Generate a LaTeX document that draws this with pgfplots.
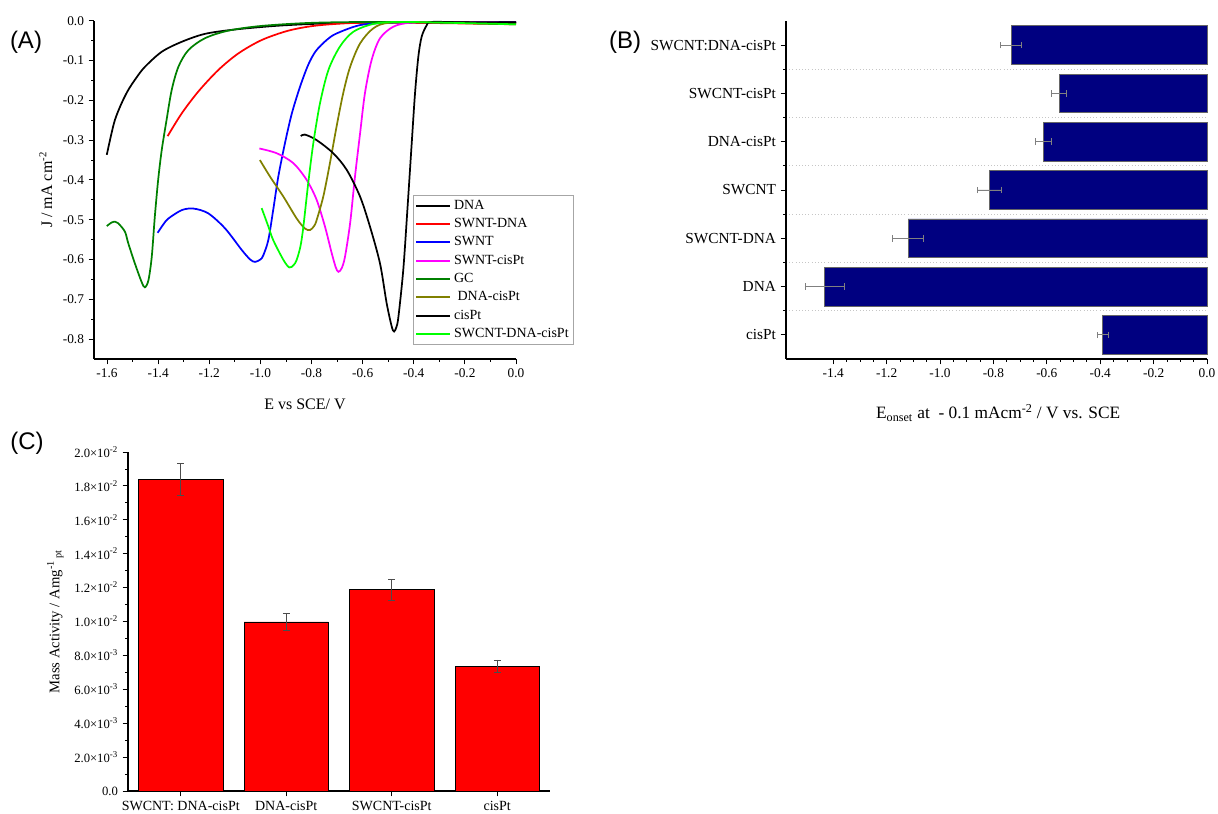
\documentclass[border=0pt]{standalone}
\usepackage{pgfplots}
\pgfplotsset{compat=1.18}
\usepackage{fontspec}
\setmainfont{Liberation Serif}
\newfontfamily\labfont{Liberation Sans}
\definecolor{olivec}{RGB}{128,128,0}
\definecolor{gcgreen}{RGB}{0,128,0}
\definecolor{navyc}{RGB}{0,0,128}
\definecolor{brgreen}{RGB}{0,255,0}
\definecolor{magc}{RGB}{255,0,255}
\definecolor{redc}{RGB}{255,0,0}
\definecolor{bluec}{RGB}{0,0,255}
\begin{document}
\begin{tikzpicture}
\useasboundingbox (0,0) rectangle (913.5pt,610.5pt);
\pgfplotsset{
  every axis/.append style={
    scale only axis, clip=false,
    axis lines=left, axis line style={-, line width=0.8pt},
    tick align=outside, major tick length=4pt, minor tick length=2.2pt,
    every tick/.style={black, line width=0.7pt},
    every minor tick/.style={black, line width=0.6pt},
    tick label style={font=\fontsize{10}{12}\selectfont},
  }
}
% ---------------- Panel A ----------------
\begin{axis}[
  at={(70.5pt,341.25pt)}, anchor=south west,
  width=316.5pt, height=253.7pt,
  xmin=-1.651, xmax=0, ymin=-0.85, ymax=0,
  xtick={-1.6,-1.4,-1.2,-1.0,-0.8,-0.6,-0.4,-0.2,0},
  xticklabels={-1.6,-1.4,-1.2,-1.0,-0.8,-0.6,-0.4,-0.2,0.0},
  ytick={-0.8,-0.7,-0.6,-0.5,-0.4,-0.3,-0.2,-0.1,0},
  yticklabels={-0.8,-0.7,-0.6,-0.5,-0.4,-0.3,-0.2,-0.1,0.0},
  minor x tick num=1, minor y tick num=1,
  xlabel={E vs SCE/ V},
  ylabel={J / mA cm\textsuperscript{-2}},
  label style={font=\fontsize{12}{14}\selectfont},
  xlabel style={at={(axis description cs:0.5,-0.133)}, anchor=center},
  ylabel style={at={(axis description cs:-0.114,0.5)}, anchor=center, rotate=0},
  legend style={at={(axis cs:-0.403,-0.438)}, anchor=north west, draw=gray!70,
    font=\fontsize{10.5}{12}\selectfont, inner sep=1.5pt, row sep=1.3pt,
    cells={anchor=west}},
  legend image code/.code={\draw[#1, line width=1.5pt] (0cm,0cm) -- (0.9cm,0cm);},
  every axis plot/.append style={line width=1.3pt, smooth, tension=0.5},
]
\addplot[black] coordinates {(-1.601,-0.337) (-1.585,-0.29) (-1.569,-0.249) (-1.545,-0.21) (-1.517,-0.174) (-1.485,-0.143) (-1.452,-0.116) (-1.386,-0.078) (-1.308,-0.053) (-1.217,-0.033) (-1.099,-0.022) (-0.931,-0.0125) (-0.75,-0.007) (-0.5,-0.004) (-0.25,-0.003) (0,-0.003)};
\addlegendentry{DNA}
\addplot[redc] coordinates {(-1.363,-0.290) (-1.308,-0.233) (-1.243,-0.178) (-1.165,-0.124) (-1.086,-0.082) (-0.995,-0.0485) (-0.891,-0.025) (-0.786,-0.0125) (-0.65,-0.006) (-0.5,-0.005) (-0.3,-0.006) (-0.1,-0.008) (0,-0.009)};
\addlegendentry{SWNT-DNA}
\addplot[bluec] coordinates {(-1.402,-0.533) (-1.380,-0.512) (-1.360,-0.497) (-1.308,-0.476) (-1.262,-0.472) (-1.204,-0.484) (-1.138,-0.522) (-1.073,-0.576) (-1.040,-0.600) (-1.021,-0.606) (-1.000,-0.600) (-0.989,-0.590) (-0.969,-0.551) (-0.950,-0.476) (-0.930,-0.392) (-0.904,-0.308) (-0.877,-0.233) (-0.845,-0.166) (-0.813,-0.111) (-0.783,-0.076) (-0.740,-0.048) (-0.702,-0.032) (-0.61,-0.011) (-0.493,-0.005) (-0.3,-0.004) (0,-0.005)};
\addlegendentry{SWNT}
\addplot[magc] coordinates {(-1.004,-0.321) (-0.936,-0.333) (-0.871,-0.358) (-0.819,-0.400) (-0.780,-0.450) (-0.747,-0.518) (-0.721,-0.584) (-0.705,-0.620) (-0.695,-0.631) (-0.682,-0.622) (-0.669,-0.593) (-0.649,-0.509) (-0.630,-0.392) (-0.610,-0.283) (-0.591,-0.182) (-0.565,-0.099) (-0.532,-0.044) (-0.480,-0.015) (-0.415,-0.005) (-0.3,-0.004) (0,-0.005)};
\addlegendentry{SWNT-cisPt}
\addplot[gcgreen] coordinates {(-1.601,-0.516) (-1.582,-0.507) (-1.568,-0.505) (-1.556,-0.509) (-1.53,-0.530) (-1.517,-0.559) (-1.491,-0.610) (-1.465,-0.656) (-1.452,-0.670) (-1.438,-0.652) (-1.425,-0.593) (-1.413,-0.492) (-1.400,-0.400) (-1.386,-0.325) (-1.367,-0.249) (-1.347,-0.174) (-1.321,-0.116) (-1.282,-0.074) (-1.217,-0.044) (-1.126,-0.025) (-0.995,-0.013) (-0.786,-0.005) (-0.5,-0.003) (-0.2,-0.006) (0,-0.009)};
\addlegendentry{GC}
\addplot[olivec] coordinates {(-1.002,-0.350) (-0.962,-0.392) (-0.910,-0.442) (-0.858,-0.497) (-0.826,-0.522) (-0.806,-0.526) (-0.790,-0.516) (-0.780,-0.501) (-0.754,-0.442) (-0.728,-0.358) (-0.702,-0.266) (-0.676,-0.182) (-0.649,-0.116) (-0.610,-0.057) (-0.558,-0.019) (-0.493,-0.005) (-0.3,-0.004) (0,-0.006)};
\addlegendentry{\ DNA-cisPt}
\addplot[black] coordinates {(-0.842,-0.290) (-0.826,-0.286) (-0.780,-0.300) (-0.715,-0.333) (-0.662,-0.375) (-0.610,-0.442) (-0.571,-0.518) (-0.532,-0.610) (-0.506,-0.710) (-0.486,-0.769) (-0.477,-0.781) (-0.468,-0.770) (-0.460,-0.744) (-0.441,-0.626) (-0.425,-0.476) (-0.408,-0.308) (-0.395,-0.182) (-0.382,-0.090) (-0.369,-0.040) (-0.349,-0.011) (-0.330,-0.003) (-0.2,-0.004) (0,-0.005)};
\addlegendentry{cisPt}
\addplot[brgreen] coordinates {(-0.995,-0.471) (-0.970,-0.515) (-0.950,-0.551) (-0.910,-0.601) (-0.887,-0.620) (-0.870,-0.614) (-0.858,-0.601) (-0.843,-0.566) (-0.832,-0.518) (-0.813,-0.409) (-0.793,-0.308) (-0.767,-0.208) (-0.734,-0.124) (-0.689,-0.065) (-0.637,-0.028) (-0.558,-0.008) (-0.454,-0.003) (-0.2,-0.006) (0,-0.009)};
\addlegendentry{SWCNT-DNA-cisPt}
\end{axis}
% ---------------- Panel B ----------------
\begin{axis}[
  at={(589.5pt,341.25pt)}, anchor=south west,
  width=315.75pt, height=253.5pt,
  xbar, bar width=0.8,
  xmin=-1.577, xmax=0, ymin=-0.5, ymax=6.5,
  xtick={-1.4,-1.2,-1.0,-0.8,-0.6,-0.4,-0.2,0},
  xticklabels={-1.4,-1.2,-1.0,-0.8,-0.6,-0.4,-0.2,0.0},
  minor x tick num=3,
  ytick={0,1,2,3,4,5,6},
  yticklabels={cisPt,DNA,SWCNT-DNA,SWCNT,DNA-cisPt,SWCNT-cisPt,SWCNT:DNA-cisPt},
  yticklabel style={font=\fontsize{11.5}{13}\selectfont},
  minor ytick={0.5,1.5,2.5,3.5,4.5,5.5},
  yminorgrids=true, minor grid style={gray!45, dotted, line width=0.6pt},
  xlabel={E\textsubscript{onset} at \ - 0.1 mAcm\textsuperscript{-2} / V vs. SCE},
  xlabel style={font=\fontsize{13}{15}\selectfont, at={(axis description cs:0.504,-0.16)}, anchor=center},
]
\addplot[fill=navyc, draw=black!60, line width=0.5pt,
  error bars/.cd, x dir=both, x explicit,
  error bar style={gray, line width=0.6pt},
  error mark options={rotate=90, gray, mark size=2.5pt, line width=0.6pt}]
coordinates {
 (-0.391,0) +- (0.020,0)
 (-1.432,1) +- (0.074,0)
 (-1.120,2) +- (0.057,0)
 (-0.815,3) +- (0.044,0)
 (-0.613,4) +- (0.030,0)
 (-0.554,5) +- (0.029,0)
 (-0.734,6) +- (0.040,0)
};
\end{axis}
% ---------------- Panel C ----------------
\begin{axis}[
  at={(96pt,17.25pt)}, anchor=south west,
  width=316.5pt, height=254.25pt,
  ybar, bar width=0.8,
  xmin=-0.5, xmax=3.5, ymin=0, ymax=0.02,
  scaled y ticks=false,
  xtick={0,1,2,3},
  xticklabels={SWCNT: DNA-cisPt,DNA-cisPt,SWCNT-cisPt,cisPt},
  xticklabel style={font=\fontsize{10.5}{12}\selectfont},
  ytick={0,0.002,0.004,0.006,0.008,0.01,0.012,0.014,0.016,0.018,0.02},
  yticklabels={0.0,
    2.0\texttimes10\textsuperscript{-3},4.0\texttimes10\textsuperscript{-3},
    6.0\texttimes10\textsuperscript{-3},8.0\texttimes10\textsuperscript{-3},
    1.0\texttimes10\textsuperscript{-2},1.2\texttimes10\textsuperscript{-2},
    1.4\texttimes10\textsuperscript{-2},1.6\texttimes10\textsuperscript{-2},
    1.8\texttimes10\textsuperscript{-2},2.0\texttimes10\textsuperscript{-2}},
  yticklabel style={font=\fontsize{9.5}{11}\selectfont},
  minor y tick num=1,
  ylabel={Mass Activity / Amg\textsuperscript{-1}\textsubscript{ pt}},
  ylabel style={font=\fontsize{11}{13}\selectfont, at={(axis description cs:-0.172,0.5)}, anchor=center},
]
\addplot[fill=redc, draw=black, line width=0.5pt,
  error bars/.cd, y dir=both, y explicit,
  error bar style={black!70, line width=0.6pt},
  error mark options={rotate=90, black!70, mark size=2.5pt, line width=0.6pt}]
coordinates {
 (0,0.01837) +- (0,0.00093)
 (1,0.00998) +- (0,0.00051)
 (2,0.01187) +- (0,0.00061)
 (3,0.00735) +- (0,0.00038)
};
\end{axis}
% ---------------- Panel labels ----------------
\node[font=\labfont\fontsize{18}{20}\selectfont] at (19.5pt,579pt) {(A)};
\node[font=\labfont\fontsize{18}{20}\selectfont] at (468.75pt,579pt) {(B)};
\node[font=\labfont\fontsize{18}{20}\selectfont] at (20.25pt,278.25pt) {(C)};
\end{tikzpicture}
\end{document}
